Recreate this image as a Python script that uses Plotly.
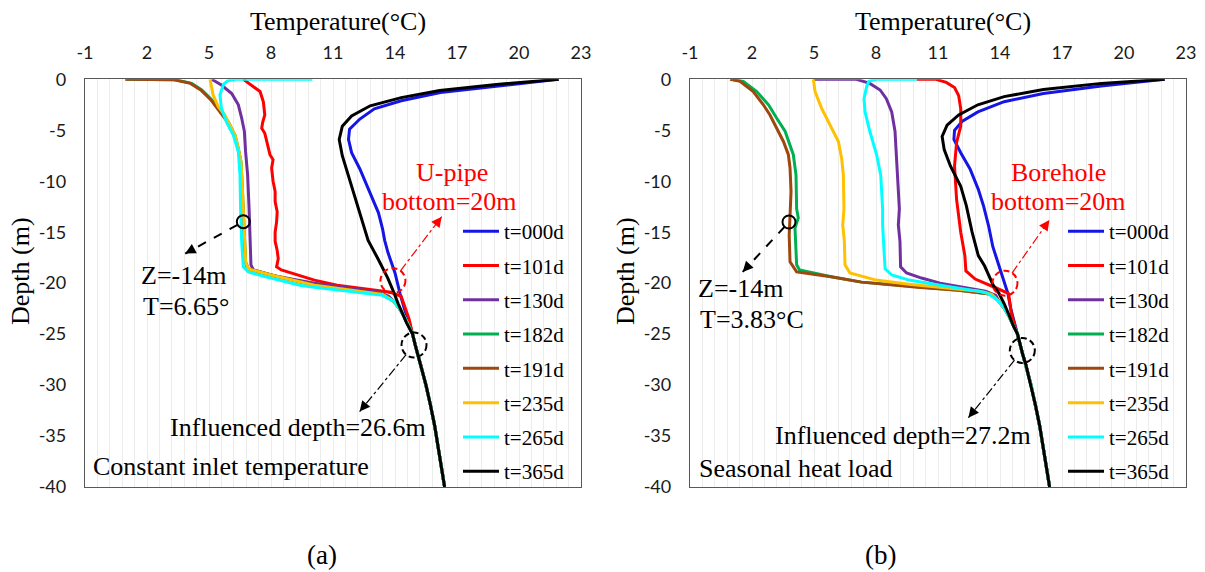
import plotly.graph_objects as go

W, H = 1205, 572
LABELS = ["t=000d", "t=101d", "t=130d", "t=182d", "t=191d", "t=235d", "t=265d", "t=365d"]
COLORS = ["#1515E6", "#FF0000", "#7030A0", "#00B050", "#9E480E", "#FFC000", "#00FFFF", "#000000"]
X_TICKS = [-1, 2, 5, 8, 11, 14, 17, 20, 23]
X_TICK_TEXT = ["-1", "2", "5", "8", "11", "14", "17", "20", "23"]
Y_TICKS = [0, -5, -10, -15, -20, -25, -30, -35, -40]
Y_TICK_TEXT = ["0", "-5", "-10", "-15", "-20", "-25", "-30", "-35", "-40"]

# shared deep ground profile and post-bend tail
DEEP_D = [-25, -26, -27, -28, -30, -32, -34, -36, -38, -40]
DEEP_T = [14.85, 14.97, 15.1, 15.25, 15.5, 15.72, 15.92, 16.08, 16.24, 16.4]
TAIL_D = [-21.8, -22.5, -23.3, -24.2]
TAIL_T = [13.95, 14.22, 14.45, 14.65]

# ---- panel (a): constant inlet temperature ----
A000_D = [0, -0.65, -1.3, -2.1, -2.9, -3.9, -4.9, -5.9, -7.2, -8.8, -10.5, -11.8, -13.1, -14.7, -15.8, -17.0, -19.0, -21.0, -22.5, -23.9]
A000_T = [21.9, 18.9, 16.2, 14.3, 13.0, 12.3, 11.8, 11.75, 11.9, 12.3, 12.65, 12.9, 13.2, 13.4, 13.5, 13.66, 14.0, 14.24, 14.45, 14.7]
A101_D = [0, -0.56, -1.2, -2.2, -3.5, -4.2, -4.8, -5.3, -6.1, -7.4, -7.9, -8.7, -10.0, -11.0, -12.0, -13.0, -14.0, -15.0, -15.9, -16.8, -17.6, -18.4, -18.7, -19.2, -19.7, -20.2, -20.6, -20.9, -21.3, -22.3, -23.5]
A101_T = [6.66, 7.06, 7.47, 7.63, 7.7, 7.6, 7.55, 7.7, 7.8, 7.95, 8.1, 8.03, 8.1, 8.2, 8.2, 8.3, 8.27, 8.2, 8.2, 8.3, 8.35, 8.27, 8.5, 9.3, 10.1, 11.2, 12.8, 13.8, 14.3, 14.48, 14.68]
A130_D = [0, -0.56, -1.4, -2.5, -3.8, -5.1, -7.1, -9.4, -12.7, -15.9, -18.2, -18.7, -19.3, -20.0, -20.5, -20.9, -21.3]
A130_T = [5.13, 5.6, 6.1, 6.42, 6.58, 6.71, 6.77, 6.87, 6.94, 7.0, 7.03, 7.15, 8.2, 10.1, 11.8, 13.2, 13.7]
A182_D = [0, -0.05, -0.4, -1.05, -2.0, -3.2, -4.2, -5.5, -6.8, -8.1, -10.0, -12.7, -15.3, -17.9, -18.6, -19.2, -20.2, -20.7, -21.1]
A182_T = [1.0, 3.4, 4.16, 4.65, 5.13, 5.6, 5.94, 6.26, 6.42, 6.55, 6.6, 6.66, 6.7, 6.77, 6.9, 8.0, 10.1, 12.0, 13.4]
A191_D = [0, -0.05, -0.4, -1.05, -2.0, -3.2, -4.2, -5.5, -6.8, -8.1, -10.0, -12.7, -15.3, -17.9, -18.6, -19.2, -20.2, -20.7, -21.1]
A191_T = [0.94, 3.3, 4.1, 4.6, 5.08, 5.55, 5.9, 6.22, 6.4, 6.52, 6.58, 6.64, 6.68, 6.75, 6.88, 8.0, 10.1, 12.0, 13.4]
A235_D = [0, -1.54, -2.7, -3.5, -4.2, -5.5, -6.8, -8.1, -10.0, -12.7, -15.3, -17.9, -18.6, -19.2, -20.2, -20.7, -21.1]
A235_T = [5.05, 5.2, 5.45, 5.77, 5.94, 6.26, 6.42, 6.55, 6.6, 6.66, 6.7, 6.77, 6.9, 8.0, 10.1, 12.0, 13.4]
A265_D = [0, 0, -0.15, -0.5, -1.54, -2.85, -4.2, -5.5, -7.1, -9.4, -12.7, -15.9, -18.4, -18.9, -19.3, -19.7, -20.2, -20.4, -20.8, -21.2]
A265_T = [10.0, 6.3, 5.9, 5.7, 5.53, 5.6, 5.85, 6.18, 6.42, 6.5, 6.53, 6.58, 6.66, 6.9, 7.6, 8.4, 9.4, 10.1, 11.8, 13.4]
A365_D = [0, -0.5, -1.1, -1.8, -2.6, -3.6, -4.6, -5.9, -7.5, -9.2, -11.1, -13.1, -15.0, -15.8, -17.7, -19.5, -20.7, -22.0, -23.9]
A365_T = [21.93, 18.9, 16.16, 14.3, 12.8, 11.9, 11.45, 11.3, 11.45, 11.7, 12.0, 12.28, 12.55, 12.7, 13.2, 13.65, 13.9, 14.15, 14.56]

# ---- panel (b): seasonal heat load ----
B000_D = [0, -0.65, -1.4, -2.2, -3.2, -4.1, -5.0, -5.9, -7.2, -8.8, -10.8, -12.4, -14.4, -16.4, -18.3, -19.5, -21.0, -22.5, -24.0]
B000_T = [21.97, 18.9, 16.1, 14.2, 12.93, 12.18, 11.8, 11.77, 12.1, 12.55, 12.95, 13.2, 13.45, 13.65, 13.95, 14.15, 14.38, 14.52, 14.7]
B101_D = [0, 0, -0.3, -0.8, -1.6, -2.9, -4.6, -6.2, -8.5, -11.8, -15.0, -17.3, -18.8, -19.6, -20.5, -21.0, -21.5, -23.0, -24.0]
B101_T = [9.97, 10.9, 11.4, 11.8, 12.0, 12.1, 12.1, 11.9, 11.8, 11.9, 12.1, 12.3, 12.35, 12.8, 13.84, 14.4, 14.45, 14.55, 14.7]
B130_D = [0, 0, -0.4, -1.05, -1.9, -3.2, -5.1, -7.8, -10.4, -12.7, -14.3, -15.9, -18.4, -19.0, -19.5, -20.0, -20.4, -20.8, -21.2]
B130_T = [4.97, 7.06, 7.7, 8.2, 8.5, 8.76, 8.92, 9.0, 9.08, 9.13, 9.08, 9.16, 9.19, 9.48, 10.2, 11.1, 12.2, 13.3, 13.8]
B182_D = [0, -0.2, -1.2, -2.5, -3.8, -5.1, -7.4, -9.4, -12.7, -13.6, -14.6, -16.6, -18.2, -18.7, -19.4, -19.9, -20.4, -20.7, -21.1]
B182_T = [1.0, 1.58, 2.23, 2.8, 3.19, 3.6, 4.0, 4.13, 4.16, 4.24, 4.08, 4.13, 4.16, 4.3, 5.9, 7.3, 10.0, 12.0, 13.6]
B191_D = [0, -0.2, -1.2, -2.5, -3.5, -4.8, -6.1, -7.4, -8.7, -11.0, -13.3, -15.3, -17.9, -18.9, -19.4, -19.9, -20.4, -20.7, -21.1]
B191_T = [0.94, 1.42, 2.06, 2.55, 2.87, 3.19, 3.52, 3.76, 3.84, 3.89, 3.84, 3.8, 3.84, 4.16, 5.9, 7.3, 10.0, 12.0, 13.6]
B235_D = [0, -1.2, -2.85, -4.5, -6.1, -7.8, -9.4, -12.7, -14.3, -15.9, -18.2, -19.0, -19.7, -20.1, -20.5, -20.8, -21.1]
B235_T = [4.97, 5.05, 5.37, 5.77, 6.18, 6.34, 6.42, 6.45, 6.39, 6.47, 6.5, 6.74, 8.0, 9.6, 11.6, 13.0, 13.6]
B265_D = [0, 0, -0.2, -0.7, -1.9, -3.2, -5.1, -7.4, -9.4, -12.7, -14.3, -16.6, -18.6, -19.2, -19.7, -20.2, -20.6, -20.9, -21.4]
B265_T = [9.97, 8.0, 7.65, 7.55, 7.42, 7.47, 7.7, 8.03, 8.23, 8.32, 8.32, 8.39, 8.44, 8.76, 9.6, 11.1, 12.4, 13.3, 13.7]
B365_D = [0, -0.4, -1.0, -1.7, -2.5, -3.5, -4.5, -5.6, -6.9, -8.5, -10.5, -12.4, -15.0, -17.3, -18.3, -20.2, -21.0, -22.0, -23.2, -24.2]
B365_T = [21.97, 18.9, 16.1, 14.2, 12.93, 12.0, 11.44, 11.2, 11.3, 11.6, 12.1, 12.37, 12.65, 12.95, 13.25, 13.67, 13.95, 14.2, 14.45, 14.65]

SERIF = "Liberation Serif, Times New Roman, serif"
SANS = "Lato, Calibri, sans-serif"


def full(d, t, tail):
    if tail:
        return d + TAIL_D + DEEP_D, t + TAIL_T + DEEP_T
    return d + DEEP_D, t + DEEP_T


PANEL_A = [(A000_D, A000_T, False), (A101_D, A101_T, False), (A130_D, A130_T, True),
           (A182_D, A182_T, True), (A191_D, A191_T, True), (A235_D, A235_T, True),
           (A265_D, A265_T, True), (A365_D, A365_T, False)]
PANEL_B = [(B000_D, B000_T, False), (B101_D, B101_T, False), (B130_D, B130_T, True),
           (B182_D, B182_T, True), (B191_D, B191_T, True), (B235_D, B235_T, True),
           (B265_D, B265_T, True), (B365_D, B365_T, False)]

fig = go.Figure()
for pi, (panel, xa, ya, lg) in enumerate([(PANEL_A, "x", "y", "legend"), (PANEL_B, "x2", "y2", "legend2")]):
    for i, (d, t, tail) in enumerate(panel):
        dd, tt = full(d, t, tail)
        fig.add_trace(go.Scatter(x=tt, y=dd, mode="lines", name=LABELS[i],
                                 line=dict(color=COLORS[i], width=3),
                                 xaxis=xa, yaxis=ya, legend=lg,
                                 legendgroup=f"{pi}{i}", showlegend=True))

# plot-area geometry (pixels)
AX = [(85, 581), (690, 1186)]
TOP, BOT = 79.3, 487


def px2paper_x(p):
    return p / W


def px2paper_y(p):
    return 1 - p / H


axis_common = dict(showline=True, mirror=True, linecolor="#595959", linewidth=1.3,
                   zeroline=False, ticks="", automargin=False,
                   tickfont=dict(family=SANS, size=18, color="#1a1a1a"))
for k, (l, r) in enumerate(AX):
    sfx = "" if k == 0 else "2"
    fig.update_layout(**{
        "xaxis" + sfx: dict(axis_common, domain=[px2paper_x(l), px2paper_x(r)], range=[-1, 23],
                            side="top", tickmode="array", tickvals=X_TICKS, ticktext=X_TICK_TEXT,
                            showgrid=True, gridcolor="#ececec", gridwidth=1,
                            minor=dict(tickmode="linear", tick0=-1, dtick=0.6, showgrid=True,
                                       gridcolor="#ececec", gridwidth=1),
                            anchor="y" + sfx, ticklabelstandoff=12),
        "yaxis" + sfx: dict(axis_common, domain=[px2paper_y(BOT), px2paper_y(TOP)], range=[-40, 0],
                            tickmode="array", tickvals=Y_TICKS, ticktext=Y_TICK_TEXT, showgrid=False,
                            anchor="x" + sfx, ticklabelstandoff=14),
    })

legend_common = dict(font=dict(family=SERIF, size=21, color="#000"), bgcolor="rgba(0,0,0,0)",
                     borderwidth=0, tracegroupgap=4, itemwidth=36, xanchor="left", yanchor="top")
fig.update_layout(
    legend=dict(legend_common, x=px2paper_x(458), y=px2paper_y(211)),
    legend2=dict(legend_common, x=px2paper_x(1063), y=px2paper_y(211)),
)

ann = []
shapes = []


def text(x, y, s, xref, yref, size=26, color="#000", xanchor="center", yanchor="middle", textangle=0):
    ann.append(dict(x=x, y=y, xref=xref, yref=yref, text=s, showarrow=False,
                    font=dict(family=SERIF, size=size, color=color),
                    xanchor=xanchor, yanchor=yanchor, textangle=textangle))


def circle(xc, yc, r, xref, yref, color, dash, width=2):
    shapes.append(dict(type="circle", xref=xref, yref=yref, xsizemode="pixel", ysizemode="pixel",
                       xanchor=xc, yanchor=yc, x0=-r, x1=r, y0=-r, y1=r,
                       line=dict(color=color, width=width, dash=dash)))


def arrow(x0, y0, x1, y1, frac, xref, yref, color, dash, width):
    sx = x0 + (x1 - x0) * frac
    sy = y0 + (y1 - y0) * frac
    shapes.append(dict(type="line", xref=xref, yref=yref, x0=sx, y0=sy, x1=x1, y1=y1,
                       line=dict(color=color, width=width, dash=dash)))
    ann.append(dict(x=x1, y=y1, xref=xref, yref=yref, axref=xref, ayref=yref,
                    ax=x1 + (x0 - x1) * 0.12, ay=y1 + (y0 - y1) * 0.12, text="",
                    showarrow=True, arrowhead=2, arrowsize=1.3, arrowwidth=1.6, arrowcolor=color))


CDASH = "6px,3.5px"

# axis titles and panel labels (paper)
for k, (l, r) in enumerate(AX):
    text(px2paper_x((l + r) / 2 + 5), px2paper_y(22), "Temperature(°C)", "paper", "paper")
    text(px2paper_x(l - 65), px2paper_y(271), "Depth (m)", "paper", "paper", textangle=-90)
text(px2paper_x(322), px2paper_y(555), "(a)", "paper", "paper", size=27)
text(px2paper_x(880), px2paper_y(555), "(b)", "paper", "paper", size=27)

# panel (a) annotations
circle(6.66, -13.97, 6.5, "x", "y", "#000", "solid")
arrow(6.66, -13.97, 3.85, -17.1, 0.1, "x", "y", "#000", "dash", 2)
text(1.59, -19.2, "Z=-14m", "x", "y", xanchor="left")
text(1.70, -22.3, "T=6.65°", "x", "y", xanchor="left")
text(16.74, -9.1, "U-pipe", "x", "y", color="#FF0000")
text(16.64, -12.0, "bottom=20m", "x", "y", color="#FF0000")
circle(13.9, -19.76, 12.5, "x", "y", "#FF0000", CDASH)
arrow(13.9, -19.76, 16.26, -13.48, 0.155, "x", "y", "#FF0000", "dashdot", 1.2)
circle(14.92, -26.07, 12.5, "x", "y", "#000", CDASH)
arrow(14.92, -26.07, 12.29, -32.6, 0.145, "x", "y", "#000", "dashdot", 1.2)
text(9.29, -34.2, "Influenced depth=26.6m", "x", "y")
text(-0.71, -38.0, "Constant inlet temperature", "x", "y", xanchor="left")

# panel (b) annotations
circle(3.79, -14.0, 6.5, "x2", "y2", "#000", "solid")
arrow(3.79, -14.0, 1.55, -18.9, 0.095, "x2", "y2", "#000", "dash", 2)
text(-0.69, -20.5, "Z=-14m", "x2", "y2", xanchor="left")
text(-0.6, -23.6, "T=3.83°C", "x2", "y2", xanchor="left")
text(16.85, -9.1, "Borehole", "x2", "y2", color="#FF0000")
text(16.85, -12.0, "bottom=20m", "x2", "y2", color="#FF0000")
circle(14.24, -20.0, 12.5, "x2", "y2", "#FF0000", CDASH)
arrow(14.24, -20.0, 16.39, -13.8, 0.16, "x2", "y2", "#FF0000", "dashdot", 1.2)
circle(15.08, -26.6, 12.5, "x2", "y2", "#000", CDASH)
arrow(15.08, -26.6, 12.47, -33.2, 0.145, "x2", "y2", "#000", "dashdot", 1.2)
text(9.33, -34.9, "Influenced depth=27.2m", "x2", "y2")
text(-0.66, -38.2, "Seasonal heat load", "x2", "y2", xanchor="left")

fig.update_layout(width=W, height=H, autosize=False, margin=dict(l=0, r=0, t=0, b=0),
                  paper_bgcolor="white", plot_bgcolor="white",
                  annotations=ann, shapes=shapes)
fig.write_html("out.html", config={"displayModeBar": False},
               post_script="document.body.style.margin='0';")
